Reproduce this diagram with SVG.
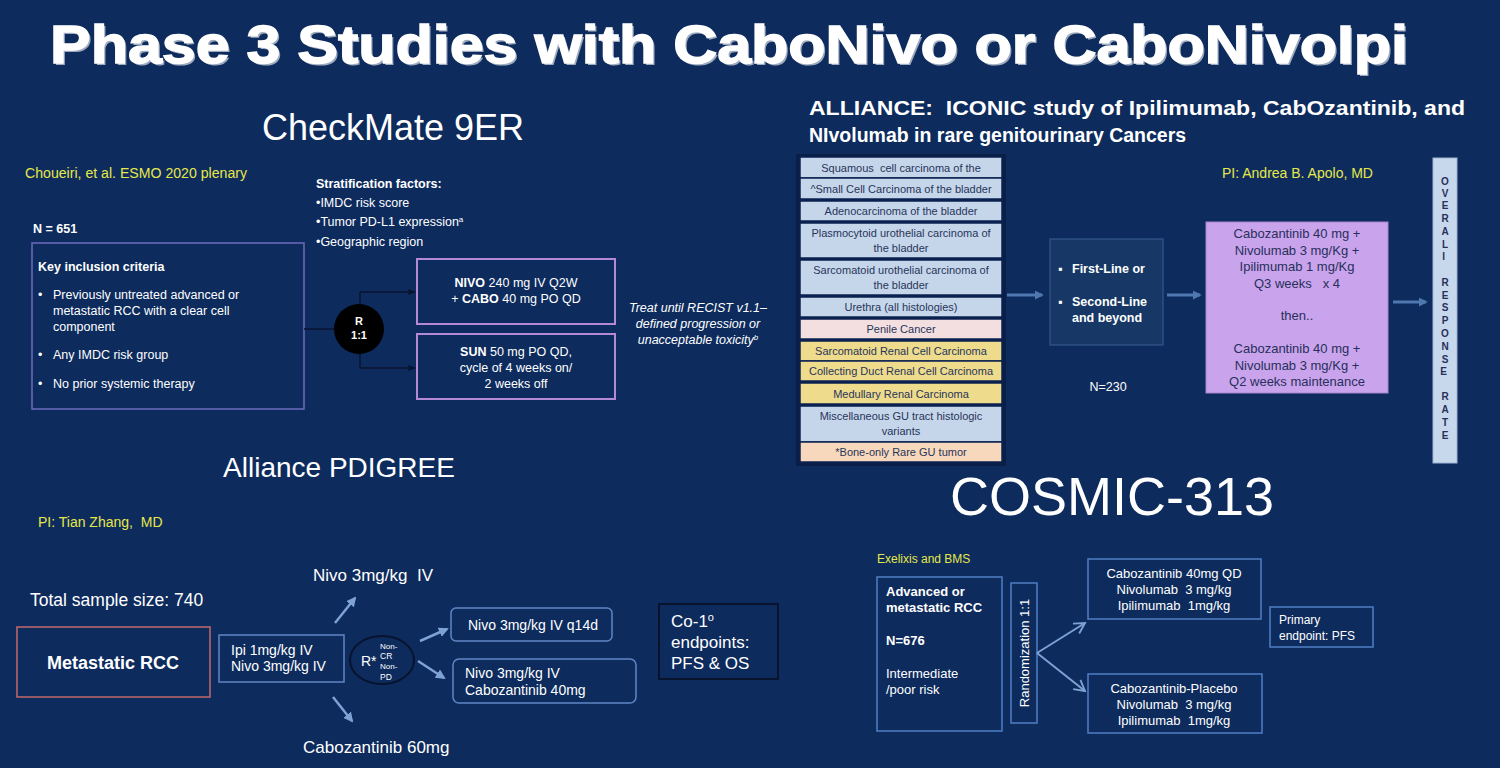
<svg xmlns="http://www.w3.org/2000/svg" width="1500" height="768" viewBox="0 0 1500 768">
<style>
text{font-family:"Liberation Sans",Arial,sans-serif;fill:#ffffff}
.y{fill:#e6e84a}
.b{font-weight:bold}
.s12{font-size:12.5px}
.s13{font-size:13px}
.s14{font-size:14px}
.s17{font-size:17px}
.lt{font-size:11px;fill:#27355a;text-anchor:middle}
.dk{fill:#27305a}
.c{text-anchor:middle}
.row{stroke:#0b2250;stroke-width:1.5}
.blue{fill:#c6d6ea}
.pink{fill:#f4dfe0}
.yel{fill:#eedb8c}
.peach{fill:#f7d8bc}
.cm{fill:none;stroke:#6c6cbc;stroke-width:1.5}
.arm{fill:none;stroke:#b48ad6;stroke-width:2}
.pd{fill:none;stroke:#5f86c4;stroke-width:1.5}
.cs{fill:none;stroke:#4f7fc4;stroke-width:1.5}
.ln-dk{fill:none;stroke:#0a1430;stroke-width:1.5}
.ln-pd{fill:none;stroke:#7ea2d4;stroke-width:2.5}
.ln-ic{fill:none;stroke:#4f78b0;stroke-width:3}
.ln-cs{fill:none;stroke:#7ea2d4;stroke-width:2}
</style>
<defs>
<marker id="ahDark" viewBox="0 0 10 10" refX="9" refY="5" markerWidth="5" markerHeight="5" orient="auto"><path d="M0,1 L10,5 L0,9 z" fill="#0a1430"/></marker>
<marker id="ahPd" viewBox="0 0 10 10" refX="8" refY="5" markerWidth="4" markerHeight="4" orient="auto"><path d="M0,0 L10,5 L0,10 z" fill="#7ea2d4"/></marker>
<marker id="ahIc" viewBox="0 0 10 10" refX="8" refY="5" markerWidth="3" markerHeight="3" orient="auto"><path d="M0,0 L10,5 L0,10 z" fill="#4f78b0"/></marker>
<marker id="ahCs" viewBox="0 0 12 12" refX="10" refY="6" markerWidth="7" markerHeight="7" orient="auto"><path d="M1,1 L10,6 L1,11" fill="none" stroke="#7ea2d4" stroke-width="1.6"/></marker>
</defs>
<rect width="1500" height="768" fill="#0d2b5d"/>

<g id="title">
<text x="52" y="65" font-size="54" font-weight="bold" textLength="1358" lengthAdjust="spacingAndGlyphs" fill="#0a1a3a" opacity="0.6">Phase 3 Studies with CaboNivo or CaboNivoIpi</text>
<text x="50" y="63" font-size="54" font-weight="bold" textLength="1358" lengthAdjust="spacingAndGlyphs" stroke="#ffffff" stroke-width="1.4">Phase 3 Studies with CaboNivo or CaboNivoIpi</text>
</g>

<!-- CheckMate 9ER -->
<g id="checkmate-header">
<text x="393" y="140" font-size="36" class="c">CheckMate 9ER</text>
<text x="25" y="178" class="y s14" textLength="222" lengthAdjust="spacingAndGlyphs">Choueiri, et al. ESMO 2020 plenary</text>
<text x="33" y="233" class="b s12">N = 651</text>
</g>
<g id="inclusion">
<rect x="32" y="243" width="272" height="166" class="cm"/>
<text x="38" y="271" class="b s12">Key inclusion criteria</text>
<text x="38" y="299" class="s12">•</text>
<text x="53" y="299" class="s12">Previously untreated advanced or</text>
<text x="53" y="315" class="s12">metastatic RCC with a clear cell</text>
<text x="53" y="331" class="s12">component</text>
<text x="38" y="359" class="s12">•</text>
<text x="53" y="359" class="s12">Any IMDC risk group</text>
<text x="38" y="388" class="s12">•</text>
<text x="53" y="388" class="s12">No prior systemic therapy</text>
</g>
<g id="stratification">
<text x="316" y="188" class="b s12">Stratification factors:</text>
<text x="316" y="207" class="s12">•IMDC risk score</text>
<text x="316" y="226" class="s12">•Tumor PD-L1 expression<tspan font-size="8" dy="-4">a</tspan></text>
<text x="316" y="246" class="s12">•Geographic region</text>
</g>
<g id="checkmate-connectors">
<path d="M304,329 H336" class="ln-dk"/>
<path d="M360,292 V368" class="ln-dk"/>
<path d="M360,292 H415" class="ln-dk" marker-end="url(#ahDark)"/>
<path d="M360,368 H415" class="ln-dk" marker-end="url(#ahDark)"/>
</g>
<g id="rand-circle">
<circle cx="359" cy="329" r="25" fill="#000000"/>
<text x="359" y="325" class="c b" font-size="11">R</text>
<text x="359" y="339" class="c b" font-size="11">1:1</text>
</g>
<g id="nivo-cabo">
<rect x="417" y="259" width="198" height="65" class="arm"/>
<text x="516" y="287" class="c s12"><tspan class="b">NIVO</tspan> 240 mg IV Q2W</text>
<text x="516" y="303" class="c s12">+ <tspan class="b">CABO</tspan> 40 mg PO QD</text>
</g>
<g id="sunitinib">
<rect x="417" y="334" width="198" height="65" class="arm"/>
<text x="516" y="356" class="c s12"><tspan class="b">SUN</tspan> 50 mg PO QD,</text>
<text x="516" y="372" class="c s12">cycle of 4 weeks on/</text>
<text x="516" y="388" class="c s12">2 weeks off</text>
</g>
<g id="treat-until">
<text x="698" y="312" class="c s12" font-style="italic">Treat until RECIST v1.1–</text>
<text x="698" y="328" class="c s12" font-style="italic">defined progression or</text>
<text x="698" y="344" class="c s12" font-style="italic">unacceptable toxicity<tspan font-size="8" dy="-4">b</tspan></text>
</g>

<!-- ICONIC -->
<g id="iconic-header">
<text x="809" y="115" font-size="19.5" class="b" textLength="656" lengthAdjust="spacingAndGlyphs">ALLIANCE:&#160; ICONIC study of Ipilimumab, CabOzantinib, and</text>
<text x="809" y="142" font-size="19.5" class="b">NIvolumab in rare genitourinary Cancers</text>
<text x="1222" y="178" class="y s14">PI: Andrea B. Apolo, MD</text>
</g>
<g id="histology-list">
<rect x="796" y="154" width="210" height="312" fill="#0a1f48"/>
<rect x="800" y="157" width="202" height="21" class="row blue"/>
<text x="901" y="172" class="lt">Squamous&#160; cell carcinoma of the</text>
<rect x="800" y="178" width="202" height="21" class="row blue"/>
<text x="901" y="193" class="lt">^Small Cell Carcinoma of the bladder</text>
<rect x="800" y="201" width="202" height="20" class="row blue"/>
<text x="901" y="215" class="lt">Adenocarcinoma of the bladder</text>
<rect x="800" y="223" width="202" height="35" class="row blue"/>
<text x="901" y="237" class="lt">Plasmocytoid urothelial carcinoma of</text>
<text x="901" y="252" class="lt">the bladder</text>
<rect x="800" y="260" width="202" height="35" class="row blue"/>
<text x="901" y="274" class="lt">Sarcomatoid urothelial carcinoma of</text>
<text x="901" y="289" class="lt">the bladder</text>
<rect x="800" y="297" width="202" height="20" class="row blue"/>
<text x="901" y="311" class="lt">Urethra (all histologies)</text>
<rect x="800" y="319" width="202" height="20" class="row pink"/>
<text x="901" y="333" class="lt">Penile Cancer</text>
<rect x="800" y="341" width="202" height="20" class="row yel"/>
<text x="901" y="355" class="lt">Sarcomatoid Renal Cell Carcinoma</text>
<rect x="800" y="361" width="202" height="20" class="row yel"/>
<text x="901" y="375" class="lt" font-size="9.5">Collecting Duct Renal Cell Carcinoma</text>
<rect x="800" y="383" width="202" height="21" class="row yel"/>
<text x="901" y="398" class="lt">Medullary Renal Carcinoma</text>
<rect x="800" y="406" width="202" height="36" class="row blue"/>
<text x="901" y="420" class="lt">Miscellaneous GU tract histologic</text>
<text x="901" y="435" class="lt">variants</text>
<rect x="800" y="442" width="202" height="20" class="row peach"/>
<text x="901" y="456" class="lt">*Bone-only Rare GU tumor</text>
</g>
<g id="iconic-connectors">
<path d="M1007,295 H1042" class="ln-ic" marker-end="url(#ahIc)"/>
<path d="M1167,295 H1200" class="ln-ic" marker-end="url(#ahIc)"/>
<path d="M1393,302 H1426" class="ln-ic" marker-end="url(#ahIc)"/>
</g>
<g id="line-setting">
<rect x="1050" y="239" width="113" height="106" fill="#173866" stroke="#35588a" stroke-width="1.2"/>
<text x="1058" y="273" class="b s12">▪</text>
<text x="1072" y="273" class="b s12">First-Line or</text>
<text x="1058" y="306" class="b s12">▪</text>
<text x="1072" y="306" class="b s12">Second-Line</text>
<text x="1072" y="322" class="b s12">and beyond</text>
<text x="1108" y="391" class="c s12">N=230</text>
</g>
<g id="iconic-regimen">
<rect x="1206" y="222" width="182" height="171" fill="#c9a3ec" stroke="#a886cc" stroke-width="1"/>
<text x="1297" y="238" class="c s13 dk">Cabozantinib 40 mg +</text>
<text x="1297" y="255" class="c s13 dk">Nivolumab 3 mg/Kg +</text>
<text x="1297" y="271" class="c s13 dk">Ipilimumab 1 mg/Kg</text>
<text x="1297" y="288" class="c s13 dk">Q3 weeks&#160;&#160; x 4</text>
<text x="1297" y="320" class="c s13 dk">then..</text>
<text x="1297" y="353" class="c s13 dk">Cabozantinib 40 mg +</text>
<text x="1297" y="370" class="c s13 dk">Nivolumab 3 mg/Kg +</text>
<text x="1297" y="386" class="c s13 dk">Q2 weeks maintenance</text>
</g>
<g id="orr">
<rect x="1433" y="158" width="24" height="305" fill="#c8d8ec" stroke="#9fb4d4" stroke-width="1"/>
<text class="c b dk" font-size="10">
<tspan x="1445" y="185">O</tspan><tspan x="1445" y="197">V</tspan><tspan x="1445" y="209">E</tspan><tspan x="1445" y="222">R</tspan><tspan x="1445" y="235">A</tspan><tspan x="1445" y="248">L</tspan><tspan x="1445" y="260">I</tspan>
<tspan x="1445" y="286">R</tspan><tspan x="1445" y="299">E</tspan><tspan x="1445" y="311">S</tspan><tspan x="1445" y="324">P</tspan><tspan x="1445" y="337">O</tspan><tspan x="1445" y="350">N</tspan><tspan x="1445" y="363">S</tspan><tspan x="1445" y="375">E</tspan>
<tspan x="1445" y="400">R</tspan><tspan x="1445" y="413">A</tspan><tspan x="1445" y="426">T</tspan><tspan x="1445" y="439">E</tspan>
</text>
</g>

<!-- PDIGREE -->
<g id="pdigree-header">
<text x="339" y="477" font-size="28" class="c">Alliance PDIGREE</text>
<text x="38" y="527" class="y s14">PI: Tian Zhang,&#160; MD</text>
<text x="30" y="606" font-size="17.5">Total sample size: 740</text>
</g>
<g id="metastatic-rcc">
<rect x="17" y="627" width="193" height="70" fill="none" stroke="#c46a6c" stroke-width="1.5"/>
<text x="113" y="669" font-size="18" class="c b">Metastatic RCC</text>
</g>
<g id="ipi-nivo">
<rect x="219" y="635" width="125" height="47" class="pd"/>
<text x="231" y="655" class="s14">Ipi 1mg/kg IV</text>
<text x="231" y="671" class="s14">Nivo 3mg/kg IV</text>
</g>
<g id="pdigree-connectors">
<path d="M335,623 L355,598" class="ln-pd" marker-end="url(#ahPd)"/>
<path d="M333,697 L352,721" class="ln-pd" marker-end="url(#ahPd)"/>
<path d="M420,641 L447,629" class="ln-pd" marker-end="url(#ahPd)"/>
<path d="M418,661 L444,678" class="ln-pd" marker-end="url(#ahPd)"/>
</g>
<g id="nivo-arm">
<text x="313" y="581" font-size="17">Nivo 3mg/kg&#160; IV</text>
</g>
<g id="cabo-arm">
<text x="303" y="753" font-size="17">Cabozantinib 60mg</text>
</g>
<g id="rand-star">
<ellipse cx="382" cy="660" rx="32" ry="24" fill="none" stroke="#08132e" stroke-width="2"/>
<text x="361" y="666" class="s14">R*</text>
<text x="380" y="649" font-size="8">Non-</text>
<text x="380" y="659" font-size="8.5">CR</text>
<text x="380" y="669" font-size="8">Non-</text>
<text x="380" y="680" font-size="8.5">PD</text>
</g>
<g id="nivo-q14d">
<rect x="451" y="608" width="161" height="33" rx="5" class="pd"/>
<text x="468" y="630" class="s14">Nivo 3mg/kg IV q14d</text>
</g>
<g id="nivo-cabo40">
<rect x="453" y="659" width="183" height="44" rx="6" class="pd"/>
<text x="465" y="678" class="s14">Nivo 3mg/kg IV</text>
<text x="465" y="695" class="s14">Cabozantinib 40mg</text>
</g>
<g id="co-endpoints">
<rect x="659" y="604" width="119" height="75" fill="none" stroke="#08132e" stroke-width="2"/>
<text x="671" y="627" class="s17">Co-1<tspan font-size="11" dy="-6">o</tspan></text>
<text x="671" y="648" class="s17">endpoints:</text>
<text x="671" y="669" class="s17">PFS &amp; OS</text>
</g>

<!-- COSMIC-313 -->
<g id="cosmic-header">
<text x="950" y="515" font-size="54">COSMIC-313</text>
<text x="877" y="563" class="y" font-size="12">Exelixis and BMS</text>
</g>
<g id="cosmic-population">
<rect x="877" y="577" width="125" height="154" class="cs"/>
<text x="886" y="596" class="b s13">Advanced or</text>
<text x="886" y="612" class="b s13">metastatic RCC</text>
<text x="886" y="645" class="b s13">N=676</text>
<text x="886" y="678" class="s13">Intermediate</text>
<text x="886" y="694" class="s13">/poor risk</text>
</g>
<g id="randomization">
<rect x="1011" y="583" width="26" height="140" class="cs"/>
<text x="0" y="0" class="s13 c" transform="translate(1029,653) rotate(-90)">Randomization 1:1</text>
</g>
<g id="cosmic-connectors">
<path d="M1037,653 L1085,623" class="ln-cs" marker-end="url(#ahCs)"/>
<path d="M1037,653 L1085,691" class="ln-cs" marker-end="url(#ahCs)"/>
</g>
<g id="cosmic-arm1">
<rect x="1088" y="559" width="173" height="60" class="cs"/>
<text x="1174" y="578" class="c s13">Cabozantinib 40mg QD</text>
<text x="1174" y="594" class="c s13">Nivolumab&#160; 3 mg/kg</text>
<text x="1174" y="610" class="c s13">Ipilimumab&#160; 1mg/kg</text>
</g>
<g id="cosmic-arm2">
<rect x="1088" y="674" width="174" height="59" class="cs"/>
<text x="1174" y="693" class="c s13">Cabozantinib-Placebo</text>
<text x="1174" y="709" class="c s13">Nivolumab&#160; 3 mg/kg</text>
<text x="1174" y="725" class="c s13">Ipilimumab&#160; 1mg/kg</text>
</g>
<g id="primary-endpoint">
<rect x="1270" y="607" width="103" height="40" class="cs"/>
<text x="1279" y="624" font-size="12">Primary</text>
<text x="1279" y="640" font-size="12">endpoint: PFS</text>
</g>
</svg>
